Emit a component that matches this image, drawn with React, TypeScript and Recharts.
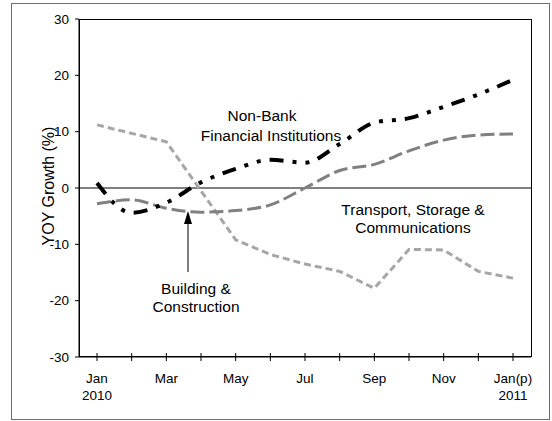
import React from "react";
import {
  LineChart,
  Line,
  XAxis,
  YAxis,
  ReferenceLine,
  Customized,
} from "recharts";

// ---- data ----
const months = ["Jan", "Feb", "Mar", "Apr", "May", "Jun", "Jul", "Aug", "Sep", "Oct", "Nov", "Dec", "Jan(p)"];
const tickLabels = ["Jan", "", "Mar", "", "May", "", "Jul", "", "Sep", "", "Nov", "", "Jan(p)"];
const tickYears = ["2010", "", "", "", "", "", "", "", "", "", "", "", "2011"];
const nonBank = [0.9, -4.4, -2.6, 1.0, 3.4, 5.0, 4.5, 7.8, 11.6, 12.4, 14.4, 16.6, 19.2];
const building = [-2.8, -2.1, -3.6, -4.3, -4.0, -3.0, 0.0, 3.1, 4.2, 6.6, 8.5, 9.4, 9.6];
const transport = [11.2, 9.7, 8.2, -0.5, -9.2, -11.8, -13.5, -14.8, -17.8, -10.9, -11.0, -14.8, -16.0];
const yTicks = [-30, -20, -10, 0, 10, 20, 30];

const data = months.map((m, i) => ({
  month: m,
  nonBank: nonBank[i],
  building: building[i],
  transport: transport[i],
}));

const FONT = "'Liberation Sans', Arial, sans-serif";

const XTick = (props: any) => {
  const { x, y, index } = props;
  const label = tickLabels[index];
  const year = tickYears[index];
  return (
    <g>
      <line x1={x} x2={x} y1={y - 4} y2={y + 4} stroke="#000" strokeWidth={1} />
      {label ? (
        <text x={x} y={y + 26} textAnchor="middle" fontSize={13.5} fontFamily={FONT} fill="#000">
          {label}
        </text>
      ) : null}
      {year ? (
        <text x={x} y={y + 43} textAnchor="middle" fontSize={13.5} fontFamily={FONT} fill="#000">
          {year}
        </text>
      ) : null}
    </g>
  );
};

const Annotations = () => (
  <g fontFamily={FONT} fill="#000">
    <rect x={79.5} y={19.5} width={452} height={337} fill="none" stroke="#000" strokeWidth={1} />
    <text x={262} y={121} textAnchor="middle" fontSize={15.5}>Non-Bank</text>
    <text x={271} y={141} textAnchor="middle" fontSize={15.5}>Financial Institutions</text>
    <text x={413} y={215} textAnchor="middle" fontSize={15.5}>Transport, Storage &amp;</text>
    <text x={413} y={233} textAnchor="middle" fontSize={15.5}>Communications</text>
    <text x={196} y={294} textAnchor="middle" fontSize={15.5}>Building &amp;</text>
    <text x={196} y={312} textAnchor="middle" fontSize={15.5}>Construction</text>
    <line x1={188} x2={188} y1={272} y2={222} stroke="#000" strokeWidth={1} />
    <polygon points="188,211 184,224 192,224" fill="#000" />
    <text
      x={54}
      y={186}
      textAnchor="middle"
      fontSize={16}
      fontFamily={FONT}
      transform="rotate(-90, 54, 186)"
    >
      YOY Growth (%)
    </text>
  </g>
);

export default function App() {
  return (
    <div style={{ position: "absolute", left: 0, top: 0, width: 552, height: 421, background: "#fff" }}>
      <div
        style={{
          position: "absolute",
          left: 11,
          top: 3,
          width: 539,
          height: 417,
          boxSizing: "border-box",
          border: "1.5px solid #6e6e6e",
        }}
      />
      <div style={{ position: "absolute", left: 0, top: 0 }}>
        <LineChart
          width={552}
          height={421}
          data={data}
          margin={{ top: 19, right: 21, bottom: 14, left: 29 }}
        >
          <XAxis
            dataKey="month"
            type="category"
            interval={0}
            padding={{ left: 18, right: 18 }}
            axisLine={{ stroke: "#000", strokeWidth: 1 }}
            tickLine={false}
            tickSize={0}
            tickMargin={0}
            height={50}
            tick={<XTick />}
          />
          <YAxis
            domain={[-30, 30]}
            ticks={yTicks}
            interval={0}
            width={50}
            tickSize={4}
            tickMargin={6}
            axisLine={{ stroke: "#000", strokeWidth: 1 }}
            tickLine={{ stroke: "#000", strokeWidth: 1 }}
            tick={{ fill: "#000", fontSize: 13.5, fontFamily: FONT }}
          />
          <ReferenceLine y={0} stroke="#000" strokeWidth={1} />
          <Line
            type="linear"
            dataKey="transport"
            stroke="#a6a6a6"
            strokeWidth={3}
            strokeDasharray="7 4"
            dot={false}
            isAnimationActive={false}
          />
          <Line
            type="monotone"
            dataKey="building"
            stroke="#808080"
            strokeWidth={3}
            strokeDasharray="14 5"
            dot={false}
            isAnimationActive={false}
          />
          <Line
            type="monotone"
            dataKey="nonBank"
            stroke="#000"
            strokeWidth={4}
            strokeDasharray="14 9 4 9 4 9"
            dot={false}
            isAnimationActive={false}
          />
          <Customized component={Annotations} />
        </LineChart>
      </div>
    </div>
  );
}
